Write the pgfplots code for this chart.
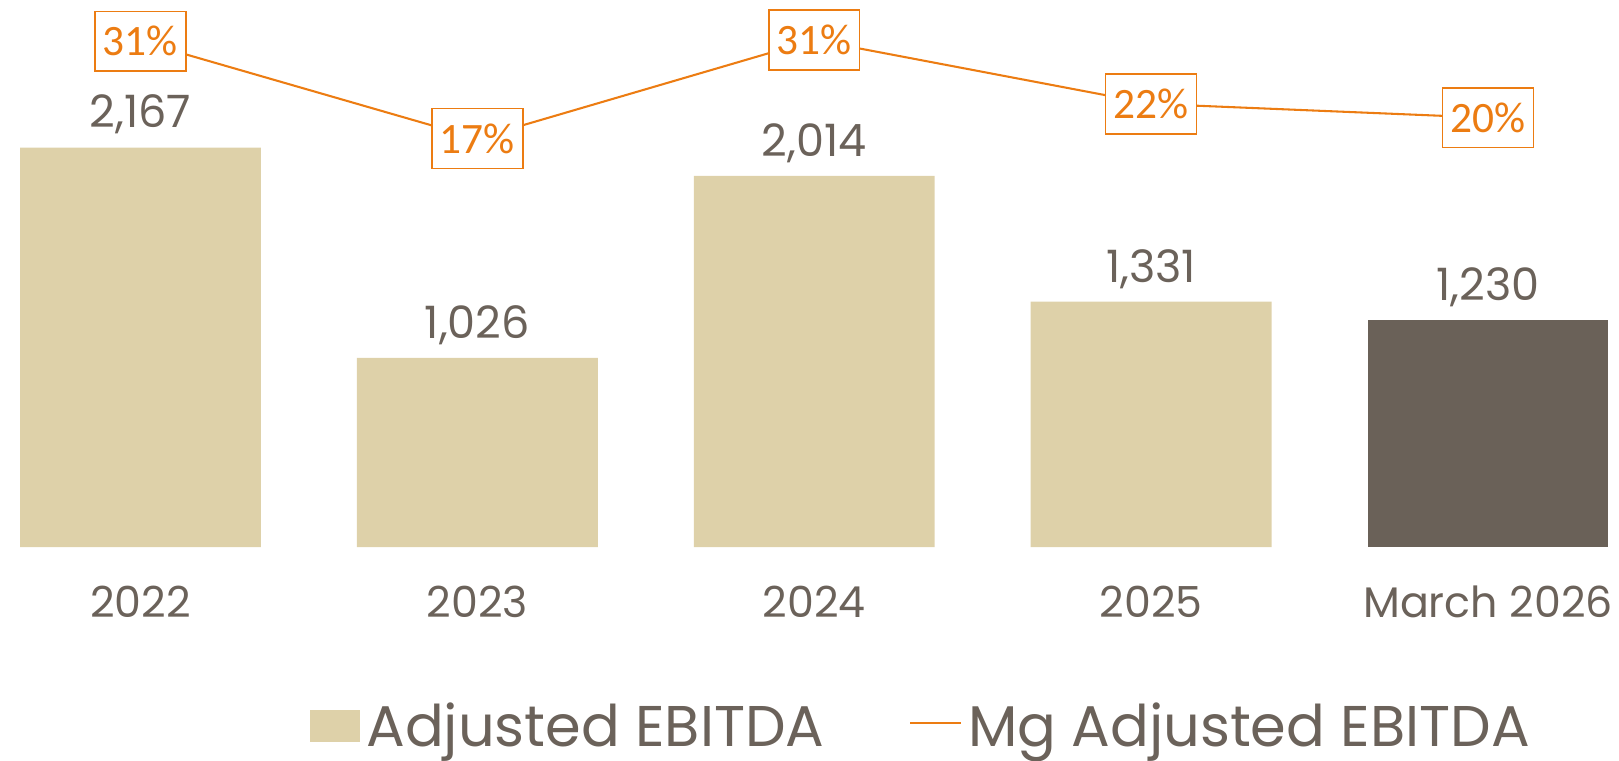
\documentclass[border=0pt]{standalone}
\usepackage{pgfplots}
\pgfplotsset{compat=1.18}
\usepackage{fontspec}
\setmainfont{Poppins}
\newfontfamily\carlito{Carlito}
\definecolor{beige}{RGB}{222,209,169}
\definecolor{darkb}{RGB}{106,97,88}
\definecolor{txt}{RGB}{107,98,90}
\definecolor{orng}{RGB}{236,124,18}
\begin{document}
\begin{tikzpicture}
\begin{axis}[
  scale only axis, width=784pt, height=265pt,
  xmin=-0.417, xmax=4.389, ymin=0, ymax=2967,
  axis line style={draw=none}, tick style={draw=none},
  ytick=\empty,
  xtick={0,1,2,3,4},
  xticklabels={2022,2023,2024,2025,March 2026},
  xticklabel style={font=\fontsize{20.7pt}{24pt}\selectfont, text=txt, anchor=base, yshift=-34pt, inner sep=0pt},
  clip=false,
  /pgf/number format/assume math mode=true,
  /pgf/number format/1000 sep={,},
  nodes near coords,
  every node near coord/.append style={font=\fontsize{21.6pt}{25pt}\selectfont, text=txt, anchor=base, yshift=9.5pt, inner sep=0pt},
  legend columns=2,
  legend style={draw=none, fill=none, inner sep=0pt, at={(axis description cs:0.191,-0.327)}, anchor=west,
    font=\fontsize{27.8pt}{32pt}\selectfont, text=txt,
    nodes={inner sep=0pt},
    /tikz/every odd column/.append style={column sep=3pt},
    /tikz/every even column/.append style={column sep=41pt}},
]
\addplot[ybar, fill=beige, draw=none, bar width=0.715, bar shift=0pt,
  legend image code/.code={\fill[beige] (0pt,-7.7pt) rectangle (24.5pt,7.7pt);}]
  coordinates {(0,2167) (1,1026) (2,2014) (3,1331)};
\addlegendentry{Adjusted EBITDA}
\addplot[ybar, fill=darkb, draw=none, bar width=0.715, bar shift=0pt, forget plot]
  coordinates {(4,1230)};
\addlegendimage{orng, line width=1pt, legend image code/.code={\draw[orng, line width=1pt] (0pt,1.5pt) -- (24.5pt,1.5pt);}}
\addlegendentry{Mg Adjusted EBITDA}
\end{axis}
\begin{axis}[
  scale only axis, width=784pt, height=265pt,
  xmin=-0.417, xmax=4.389, ymin=-41.8, ymax=36.94,
  hide axis, clip=false,
  /pgf/number format/assume math mode=true,
]
\addplot[orng, line width=1pt, mark=none,
  nodes near coords={\carlito\pgfmathprintnumber[fixed,precision=0]{\pgfplotspointmeta}\%},
  every node near coord/.append style={anchor=center, draw=orng, line width=0.75pt, fill=white,
    text=orng, font=\fontsize{21pt}{24pt}\selectfont, minimum width=44pt, minimum height=29pt, inner sep=0pt}]
  coordinates {(0,31) (1,17) (2,31.2) (3,22) (4,20)};
\end{axis}
\pgfresetboundingbox
\path (current axis.south west) ++(0,-103.5pt) rectangle (current axis.north east);
\end{tikzpicture}
\end{document}
